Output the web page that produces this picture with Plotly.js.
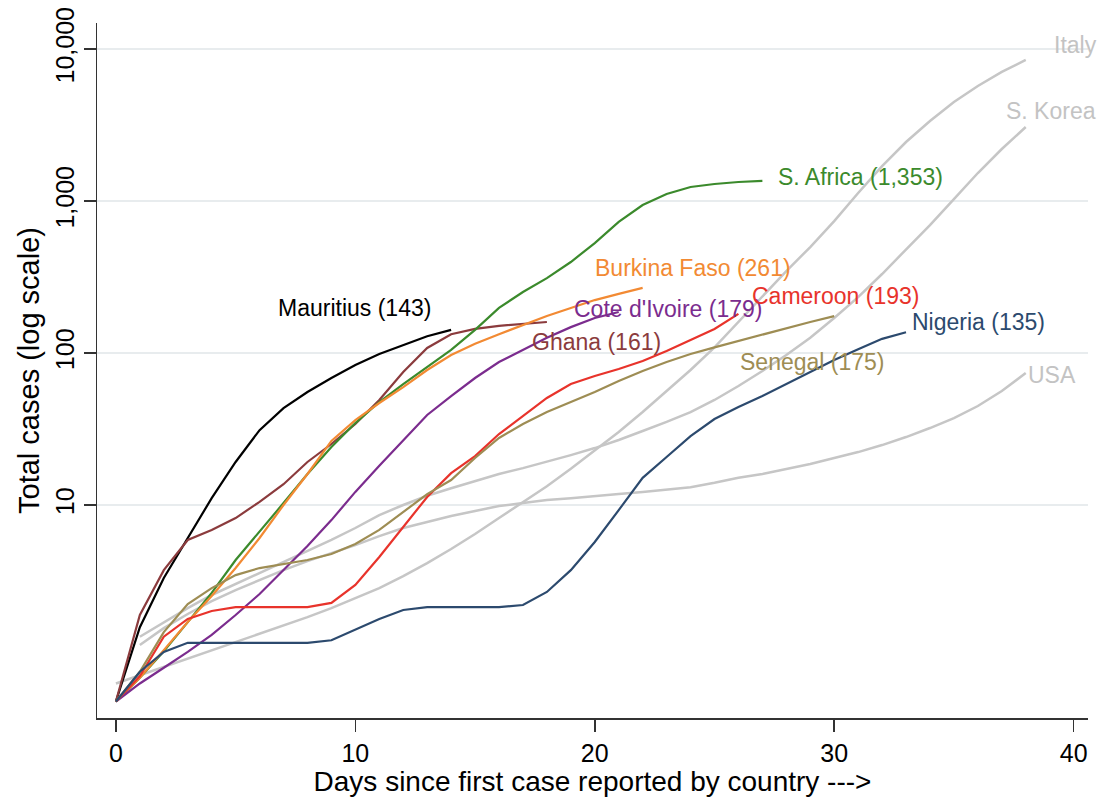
<!DOCTYPE html>
<html><head><meta charset="utf-8">
<script src="https://cdn.plot.ly/plotly-3.0.1.min.js"></script>
<style>html,body{margin:0;padding:0;background:#fff}#chart{width:1115px;height:799px}</style>
</head><body><div id="chart"></div>
<script>
// Total cases (smoothed) by days since first case
const mauritius = [0.51, 1.57, 3.31, 6.07, 11.1, 19.2, 31.1, 43.4, 55.4, 68.5, 83.4, 98.5, 113, 129, 142];
const ghana = [0.51, 1.89, 3.73, 5.89, 6.86, 8.21, 10.5, 13.7, 19.2, 25.2, 34.1, 49.1, 75.0, 108, 133, 144, 151, 155, 160];
const sAfrica = [0.51, 0.73, 1.09, 1.70, 2.64, 4.35, 6.64, 10.3, 16.0, 24.1, 34.6, 47.6, 62.5, 80.9, 105, 142, 198, 252, 311, 397, 529, 728, 941, 1112, 1236, 1294, 1334, 1355];
const burkina = [0.51, 0.73, 1.11, 1.70, 2.52, 3.85, 6.07, 10.0, 16.0, 26.4, 36.2, 46.9, 59.7, 77.3, 97.0, 115, 133, 153, 175, 198, 223, 245, 268];
const coteIvoire = [0.51, 0.67, 0.85, 1.08, 1.40, 1.89, 2.60, 3.73, 5.37, 7.96, 12.2, 18.1, 26.8, 39.1, 52.1, 68.5, 87.3, 105, 126, 148, 170, 186];
const cameroon = [0.51, 0.75, 1.36, 1.78, 2.01, 2.13, 2.13, 2.13, 2.13, 2.27, 2.98, 4.55, 7.17, 11.3, 16.2, 21.0, 29.3, 38.5, 50.6, 62.5, 70.6, 78.5, 88.6, 103, 122, 144, 181];
const senegal = [0.51, 0.80, 1.46, 2.23, 2.84, 3.46, 3.85, 4.09, 4.35, 4.76, 5.54, 6.86, 8.99, 11.8, 14.6, 20.4, 27.6, 34.1, 40.9, 47.6, 55.4, 65.4, 76.2, 87.3, 98.5, 109, 120, 133, 146, 160, 175];
const nigeria = [0.51, 0.80, 1.08, 1.24, 1.24, 1.24, 1.24, 1.24, 1.24, 1.29, 1.51, 1.78, 2.04, 2.13, 2.13, 2.13, 2.13, 2.20, 2.68, 3.73, 5.71, 9.27, 15.1, 20.7, 28.4, 36.8, 44.2, 52.1, 62.5, 75.0, 89.9, 106, 124, 137];
const italy = [0.67, 0.76, 0.86, 0.97, 1.11, 1.26, 1.42, 1.62, 1.83, 2.10, 2.44, 2.84, 3.41, 4.15, 5.14, 6.45, 8.21, 10.5, 13.3, 17.3, 22.7, 30.2, 40.9, 56.2, 77.3, 109, 160, 237, 346, 498, 738, 1130, 1698, 2444, 3357, 4477, 5710, 7063, 8472];
const sKorea = [1.36, 1.70, 2.10, 2.56, 3.02, 3.57, 4.22, 4.98, 5.89, 7.06, 8.59, 10.0, 11.5, 12.9, 14.4, 16.0, 17.5, 19.2, 21.3, 23.7, 26.8, 30.7, 35.2, 40.9, 49.1, 60.7, 76.2, 97.0, 126, 170, 233, 331, 476, 695, 1030, 1528, 2198, 3069];
const usa = [1.20, 1.55, 1.92, 2.33, 2.76, 3.21, 3.73, 4.28, 4.83, 5.45, 6.25, 7.06, 7.73, 8.47, 9.14, 9.85, 10.3, 10.8, 11.1, 11.5, 11.8, 12.2, 12.6, 13.1, 14.0, 15.1, 16.0, 17.3, 18.6, 20.4, 22.3, 24.8, 28.0, 32.1, 37.3, 44.8, 56.2, 73.8];

const seriesNames = ['Italy','S. Korea','USA','Mauritius','Ghana','S. Africa','Burkina Faso','Cote d\'Ivoire','Cameroon','Senegal','Nigeria'];
const seriesLabels = ['Italy','S. Korea','USA','Mauritius (143)','Ghana (161)','S. Africa (1,353)','Burkina Faso (261)','Cote d\'Ivoire (179)','Cameroon (193)','Senegal (175)','Nigeria (135)'];
const seriesData = [italy, sKorea, usa, mauritius, ghana, sAfrica, burkina, coteIvoire, cameroon, senegal, nigeria];
const startDay = [0, 1, 1, 0, 0, 0, 0, 0, 0, 0, 0];
const xTicks = [0, 10, 20, 30, 40];
const yTicks = [10, 100, 1000, 10000];
const yTickText = ['10', '100', '1,000', '10,000'];

const colors = ['#c6c6c6','#c6c6c6','#c6c6c6','#000000','#8b3b3d','#3b8a2c','#f28a33','#7b2c8e','#e8332b','#9e8d54','#2c4a6e'];
const labelColors = ['#c3c3c3','#c3c3c3','#c3c3c3','#000000','#8b3b3d','#3b8a2c','#f28a33','#7b2c8e','#e8332b','#9e8d54','#2c4a6e'];

// label anchor positions (x in days, y in log10 units)
const labelPos = [
  [39.1, 4.026, 'left'], [37.1, 3.592, 'left'], [38.03, 1.855, 'left'],
  [9.95, 2.296, 'center'], [17.3, 2.072, 'left'], [27.58, 3.158, 'left'],
  [19.93, 2.559, 'left'], [19.06, 2.289, 'left'], [26.49, 2.375, 'left'],
  [25.99, 1.941, 'left'], [33.18, 2.204, 'left']
];

const traces = seriesData.map((vals, i) => ({
  x: vals.map((_, k) => k + startDay[i]),
  y: vals,
  name: seriesNames[i],
  mode: 'lines',
  line: {color: colors[i], width: i < 3 ? 2.5 : 2.2},
  hoverinfo: 'skip'
}));

const annotations = seriesLabels.map((t, i) => ({
  x: labelPos[i][0], y: labelPos[i][1], xref: 'x', yref: 'y',
  text: t, showarrow: false, xanchor: labelPos[i][2], yanchor: 'middle',
  font: {size: 23, color: labelColors[i]}
}));

const layout = {
  width: 1115, height: 799,
  margin: {l: 97, r: 27, t: 23, b: 81},
  paper_bgcolor: '#ffffff', plot_bgcolor: '#ffffff',
  showlegend: false,
  font: {family: '"Liberation Sans", Arial, Helvetica, sans-serif', color: '#000'},
  xaxis: {
    range: [-0.79, 40.6], tickvals: xTicks, ticks: 'outside', ticklen: 12, tickwidth: 1.5, tickcolor: '#333',
    showline: true, linecolor: '#333', linewidth: 1.5, showgrid: false, zeroline: false,
    tickfont: {size: 25, color: '#000'},
    title: {text: 'Days since first case reported by country --->', font: {size: 28, color: '#000'}, standoff: 6}
  },
  yaxis: {
    type: 'log', range: [-0.401, 4.171], tickvals: yTicks, ticktext: yTickText, tickangle: -90,
    ticks: 'outside', ticklen: 12, tickwidth: 1.5, tickcolor: '#333',
    showline: true, linecolor: '#333', linewidth: 1.5, showgrid: true, gridcolor: '#e8ecee', gridwidth: 1.5,
    zeroline: false, tickfont: {size: 25, color: '#000'},
    title: {text: 'Total cases (log scale)', font: {size: 29, color: '#000'}, standoff: 2}
  },
  annotations: annotations
};

Plotly.newPlot('chart', traces, layout, {displayModeBar: false, staticPlot: true});
</script>
</body></html>
